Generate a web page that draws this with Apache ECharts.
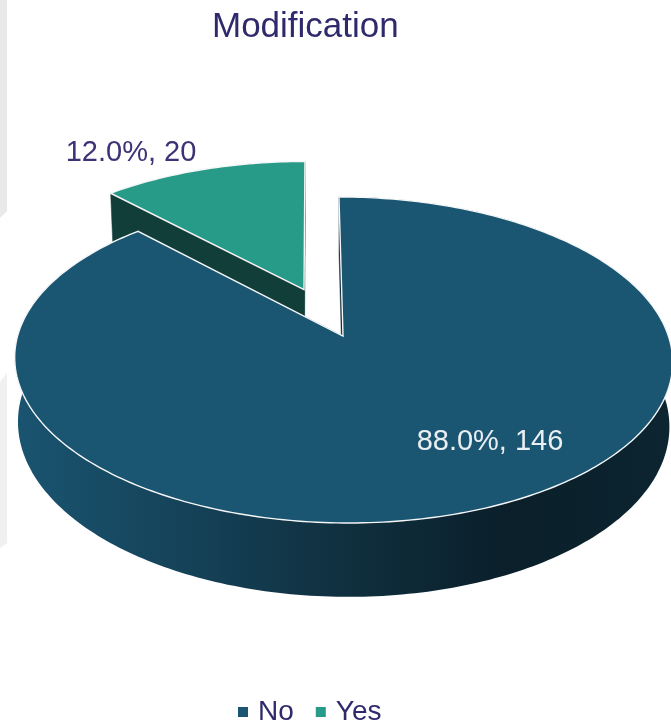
<!DOCTYPE html>
<html>
<head>
<meta charset="utf-8">
<script src="https://cdn.jsdelivr.net/npm/echarts@6/dist/echarts.min.js"></script>
<style>html,body{margin:0;padding:0;background:#fff}#c{width:671px;height:725px}</style>
</head>
<body>
<div id="c"></div>
<script>
const titleText = 'Modification';
const categories = ['No', 'Yes'];
const values = [146, 20];
const exploded = [0, 0.327];
const colors = ['#1a5572', '#289a88'];
const wallColors = ['#0b2431', '#123e39'];

const total = values.reduce((a, b) => a + b, 0);
const P = { cx: 343, cy: 336, a: 325.4, b: 159.5, k: 0.147, shear: 0.029, depth: 63, shrink: 0.01 };
const labelAnchors = [[490, 442], [131, 153]];
const labelColors = ['#e9eff3', '#3b3375'];

function project(u, v, low) {
  const w = 1 - P.k * v;
  let x = P.a * u / w;
  const yr = P.b * v / w;
  x += P.shear * yr;
  if (low) return [P.cx + x * (1 - P.shrink), P.cy + yr + P.depth / w];
  return [P.cx + x, P.cy + yr];
}

// slices run clockwise from the top of the disc
const slices = [];
let acc = 0;
values.forEach((val, i) => {
  const start = acc / total * 2 * Math.PI;
  acc += val;
  const end = acc / total * 2 * Math.PI;
  const mid = (start + end) / 2;
  slices.push({ start, end, du: exploded[i] * Math.sin(mid), dv: -exploded[i] * Math.cos(mid) });
});

function rimPoint(s, t, low) {
  return project(s.du + Math.sin(t), s.dv - Math.cos(t), low);
}
function arc(s, low) {
  const n = Math.ceil((s.end - s.start) / (Math.PI / 180));
  const pts = [];
  for (let j = 0; j <= n; j++) pts.push(rimPoint(s, s.start + (s.end - s.start) * j / n, low));
  return pts;
}

const wallGradient = {
  type: 'linear', global: true, x: 14, y: 0, x2: 671, y2: 0,
  colorStops: [
    { offset: 0, color: '#1a5470' },
    { offset: 0.25, color: '#15435a' },
    { offset: 0.5, color: '#10303f' },
    { offset: 0.75, color: '#0a1f2a' },
    { offset: 1, color: '#0c2530' }
  ]
};

function renderSlice(i) {
  return function () {
    const s = slices[i];
    const apex = project(s.du, s.dv, false);
    const apexLow = project(s.du, s.dv, true);
    const top = arc(s, false);
    const low = arc(s, true);
    const children = [];
    const wall = pts => ({ type: 'polygon', shape: { points: pts }, style: { fill: wallColors[i], stroke: wallColors[i], lineWidth: 0.5 } });
    // radial faces
    children.push(wall([apex, top[0], low[0], apexLow]));
    children.push(wall([apex, top[top.length - 1], low[low.length - 1], apexLow]));
    // outer rim, only on the larger slice where it can be seen
    if (i === 0) {
      children.push({
        type: 'polygon',
        shape: { points: top.concat(low.slice().reverse()) },
        style: { fill: wallGradient }
      });
    }
    // top face
    children.push({
      type: 'polygon',
      shape: { points: [apex].concat(top) },
      style: { fill: colors[i], stroke: '#f4f6f7', lineWidth: 1.4 }
    });
    const pct = (values[i] / total * 100).toFixed(1);
    children.push({
      type: 'text',
      style: {
        x: labelAnchors[i][0], y: labelAnchors[i][1],
        text: pct + '%, ' + values[i],
        fill: labelColors[i],
        font: '29px "Liberation Sans", Arial, sans-serif',
        align: 'center', verticalAlign: 'middle'
      }
    });
    return { type: 'group', children };
  };
}

const seriesOf = i => ({
  type: 'custom',
  name: categories[i],
  coordinateSystem: 'none',
  renderItem: renderSlice(i),
  itemStyle: { color: colors[i] },
  data: [{ name: categories[i], value: values[i] }],
  silent: true,
  animation: false
});

const chart = echarts.init(document.getElementById('c'), null, { renderer: 'canvas' });
chart.setOption({
  backgroundColor: '#ffffff',
  animation: false,
  title: {
    text: titleText, left: 207, top: 5,
    textStyle: { color: '#2f2a6b', fontSize: 35, fontWeight: 'normal', fontFamily: '"Liberation Sans", Arial, sans-serif' }
  },
  legend: {
    data: categories, left: 233, top: 693, icon: 'rect',
    itemWidth: 10, itemHeight: 10, itemGap: 22,
    textStyle: { color: '#2f2a6b', fontSize: 28, padding: [0, 0, 0, 5], fontFamily: '"Liberation Sans", Arial, sans-serif' }
  },
  graphic: [
    { type: 'polygon', silent: true, z: -1, shape: { points: [[0, 0], [7, 0], [7, 211], [0, 218]] }, style: { fill: '#e9e9e9' } },
    { type: 'polygon', silent: true, z: -1, shape: { points: [[0, 382], [7, 373], [7, 543], [0, 548]] }, style: { fill: '#f0f0f0' } }
  ],
  // the far slice is painted first so that the near one overlaps it
  series: [seriesOf(1), seriesOf(0)]
});
</script>
</body>
</html>
